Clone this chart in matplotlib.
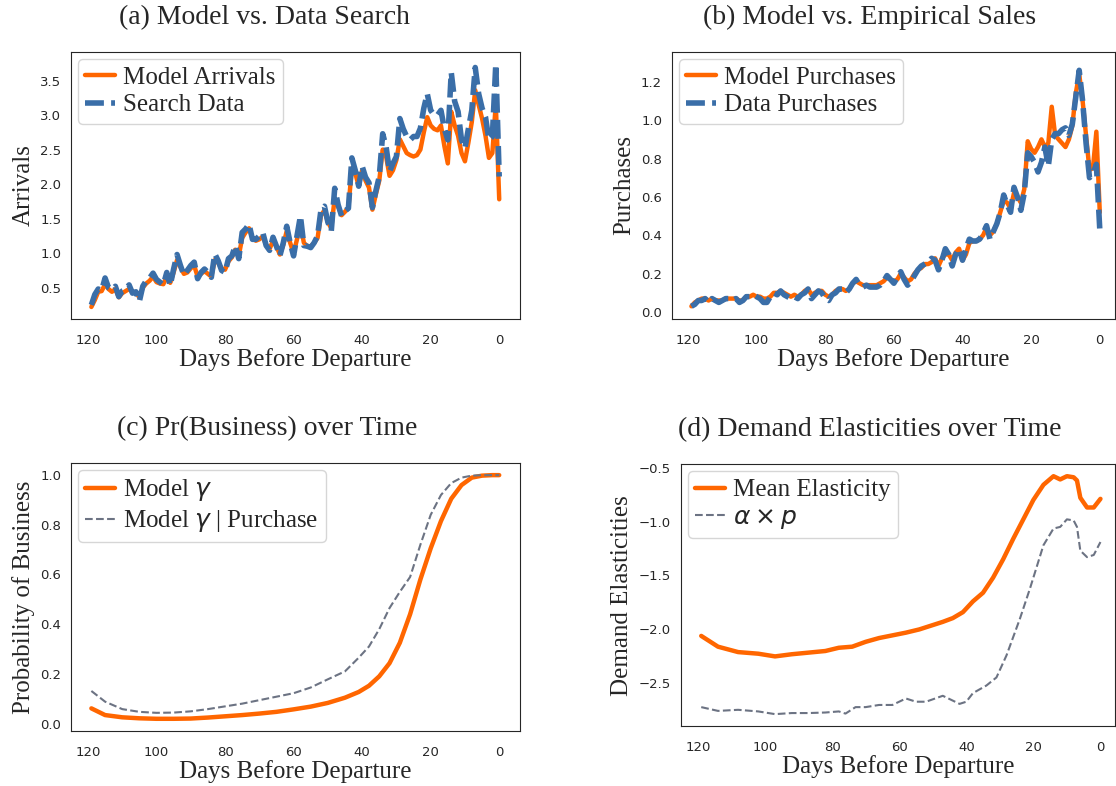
import numpy as np
import matplotlib
matplotlib.use('Agg')
import matplotlib.pyplot as plt
import seaborn as sns

# days before departure, one value per day (119 -> 0)
days = np.arange(119, -1, -1)

# (a) arrivals
search_data = [0.25, 0.40, 0.48, 0.46, 0.64, 0.50, 0.47, 0.52, 0.37, 0.45,
               0.47, 0.54, 0.42, 0.44, 0.30, 0.52, 0.60, 0.64, 0.71, 0.62,
               0.58, 0.54, 0.72, 0.53, 0.77, 0.98, 0.82, 0.68, 0.75, 0.82,
               0.87, 0.63, 0.72, 0.77, 0.72, 0.65, 0.99, 0.89, 0.75, 0.72,
               0.92, 0.96, 1.11, 0.92, 1.30, 1.35, 1.42, 1.20, 1.20, 1.25,
               1.30, 1.11, 1.04, 1.23, 1.10, 0.96, 1.15, 1.39, 1.15, 0.96,
               1.25, 1.54, 1.11, 1.10, 1.08, 1.15, 1.25, 1.63, 1.68, 1.45,
               1.32, 1.94, 1.70, 1.54, 1.61, 1.65, 2.38, 2.20, 1.97, 2.26,
               2.10, 2.02, 1.66, 1.90, 2.11, 2.73, 2.54, 2.18, 2.30, 2.40,
               2.95, 2.80, 2.69, 2.64, 2.69, 2.69, 2.81, 3.10, 3.31, 3.07,
               3.00, 3.00, 3.07, 2.80, 2.64, 3.62, 3.20, 3.05, 2.64, 2.52,
               2.80, 3.07, 3.69, 3.31, 3.10, 2.97, 2.64, 2.69, 3.74, 2.11]
model_arrivals = [0.22, 0.32, 0.44, 0.45, 0.55, 0.48, 0.44, 0.48, 0.36, 0.42,
                  0.45, 0.48, 0.44, 0.43, 0.36, 0.50, 0.56, 0.60, 0.66, 0.58,
                  0.56, 0.55, 0.66, 0.57, 0.72, 0.90, 0.80, 0.70, 0.72, 0.78,
                  0.82, 0.66, 0.70, 0.74, 0.70, 0.66, 0.90, 0.86, 0.78, 0.76,
                  0.88, 0.94, 1.05, 0.96, 1.22, 1.30, 1.36, 1.22, 1.18, 1.20,
                  1.24, 1.12, 1.06, 1.18, 1.10, 0.98, 1.12, 1.32, 1.15, 1.00,
                  1.20, 1.42, 1.15, 1.10, 1.10, 1.15, 1.22, 1.55, 1.62, 1.45,
                  1.36, 1.80, 1.68, 1.55, 1.60, 1.66, 2.23, 2.16, 1.97, 2.20,
                  2.05, 1.95, 1.63, 1.85, 2.05, 2.50, 2.40, 2.12, 2.20, 2.35,
                  2.65, 2.55, 2.45, 2.42, 2.40, 2.42, 2.50, 2.75, 2.97, 2.85,
                  2.80, 2.78, 2.85, 2.55, 2.30, 3.05, 2.85, 2.70, 2.45, 2.33,
                  2.60, 2.90, 3.36, 3.15, 2.95, 2.70, 2.38, 2.45, 3.17, 1.78]

# (b) purchases
data_purchases = [0.03, 0.04, 0.06, 0.06, 0.07, 0.05, 0.07, 0.06, 0.05, 0.06,
                  0.07, 0.07, 0.06, 0.07, 0.05, 0.06, 0.08, 0.08, 0.09, 0.08,
                  0.07, 0.05, 0.05, 0.08, 0.10, 0.09, 0.11, 0.09, 0.08, 0.07,
                  0.08, 0.07, 0.09, 0.10, 0.12, 0.07, 0.09, 0.11, 0.10, 0.07,
                  0.06, 0.09, 0.10, 0.12, 0.12, 0.10, 0.12, 0.15, 0.17, 0.14,
                  0.13, 0.14, 0.13, 0.13, 0.13, 0.14, 0.16, 0.19, 0.17, 0.15,
                  0.18, 0.21, 0.17, 0.14, 0.16, 0.19, 0.22, 0.24, 0.25, 0.26,
                  0.28, 0.27, 0.22, 0.27, 0.33, 0.30, 0.24, 0.30, 0.33, 0.27,
                  0.33, 0.38, 0.37, 0.37, 0.38, 0.41, 0.45, 0.38, 0.42, 0.46,
                  0.52, 0.61, 0.56, 0.52, 0.65, 0.60, 0.53, 0.62, 0.83, 0.81,
                  0.78, 0.73, 0.78, 0.86, 0.76, 0.90, 0.93, 0.93, 0.95, 0.96,
                  0.92, 0.98, 1.12, 1.26, 1.10, 0.88, 0.70, 0.72, 0.77, 0.43]
model_purchases = [0.03, 0.05, 0.06, 0.07, 0.07, 0.06, 0.07, 0.06, 0.06, 0.06,
                   0.07, 0.07, 0.07, 0.07, 0.06, 0.06, 0.08, 0.08, 0.09, 0.08,
                   0.08, 0.07, 0.07, 0.08, 0.10, 0.10, 0.11, 0.10, 0.09, 0.08,
                   0.09, 0.08, 0.09, 0.11, 0.12, 0.09, 0.10, 0.11, 0.11, 0.09,
                   0.08, 0.09, 0.11, 0.12, 0.12, 0.11, 0.12, 0.15, 0.16, 0.15,
                   0.14, 0.14, 0.14, 0.14, 0.14, 0.15, 0.16, 0.18, 0.17, 0.16,
                   0.17, 0.20, 0.18, 0.16, 0.17, 0.20, 0.22, 0.23, 0.25, 0.25,
                   0.26, 0.28, 0.24, 0.28, 0.30, 0.30, 0.27, 0.31, 0.33, 0.27,
                   0.30, 0.36, 0.37, 0.37, 0.38, 0.40, 0.44, 0.40, 0.42, 0.46,
                   0.52, 0.58, 0.57, 0.54, 0.62, 0.60, 0.57, 0.64, 0.89, 0.85,
                   0.83, 0.86, 0.90, 0.86, 0.88, 1.07, 0.92, 0.90, 0.88, 0.86,
                   0.90, 0.97, 1.14, 1.24, 1.10, 0.92, 0.74, 0.75, 0.94, 0.52]

# (c) probability of business
days_c = [119, 115, 110, 105, 100, 95, 90, 85, 80, 75, 70, 65, 60, 55, 50,
          45, 41, 38, 35, 32, 29, 26, 23, 20, 17, 14, 11, 8, 5, 2, 0]
gamma_model = [0.061, 0.034, 0.025, 0.021, 0.019, 0.019, 0.020, 0.024, 0.029,
               0.034, 0.040, 0.047, 0.057, 0.068, 0.083, 0.104, 0.127, 0.152,
               0.190, 0.243, 0.325, 0.440, 0.580, 0.705, 0.815, 0.905, 0.960,
               0.990, 0.998, 1.000, 1.000]
gamma_purchase = [0.131, 0.088, 0.058, 0.047, 0.043, 0.044, 0.049, 0.058, 0.069,
                  0.080, 0.094, 0.108, 0.122, 0.145, 0.178, 0.210, 0.265, 0.310,
                  0.380, 0.465, 0.530, 0.590, 0.720, 0.840, 0.920, 0.968, 0.990,
                  0.998, 1.000, 1.000, 1.000]

# (d) elasticities
days_d = [119, 114, 108, 102, 97, 92, 87, 82, 78, 74, 70, 66, 62, 58, 54, 50,
          47, 44, 41, 38, 35, 32, 29, 26, 23, 20, 17, 14, 12, 10, 8, 7, 6, 4, 2, 0]
mean_elast = [-2.06, -2.16, -2.21, -2.225, -2.25, -2.23, -2.215, -2.20, -2.17,
              -2.16, -2.115, -2.08, -2.055, -2.03, -2.00, -1.96, -1.93, -1.895,
              -1.84, -1.74, -1.66, -1.52, -1.35, -1.16, -0.98, -0.80, -0.66,
              -0.58, -0.61, -0.58, -0.59, -0.62, -0.78, -0.87, -0.87, -0.79]
days_d2 = [119, 114, 108, 102, 97, 92, 87, 82, 78, 76, 73, 70, 66, 62, 58, 55,
           52, 47, 44, 42, 40, 38, 34, 31, 28, 24, 21, 17, 14, 12, 10, 8, 7, 6,
           4, 2, 0]
alpha_p = [-2.72, -2.755, -2.745, -2.76, -2.785, -2.775, -2.775, -2.77, -2.76,
           -2.78, -2.72, -2.72, -2.70, -2.70, -2.64, -2.67, -2.67, -2.615, -2.66,
           -2.69, -2.67, -2.59, -2.52, -2.445, -2.24, -1.90, -1.62, -1.22, -1.065,
           -1.05, -0.98, -0.99, -1.05, -1.27, -1.33, -1.31, -1.19]

sns.set_style('white')
plt.rcParams['font.family'] = ['Liberation Serif', 'DejaVu Serif']
plt.rcParams['mathtext.fontset'] = 'dejavusans'

ORANGE = '#ff6600'
BLUE = '#3a6ea8'
GRAY = '#6c7383'
TICK_FONT = 9.5
LABEL_FONT = 18
TITLE_FONT = 20
BLUE_DASH = (0, (3.4, 1.3))

fig = plt.figure(figsize=(11.16, 7.86), dpi=100)
ax_a = fig.add_axes([0.0636, 0.594, 0.402, 0.340])
ax_b = fig.add_axes([0.602, 0.594, 0.397, 0.340])
ax_c = fig.add_axes([0.0636, 0.070, 0.402, 0.341])
ax_d = fig.add_axes([0.610, 0.0763, 0.389, 0.333])


def style(ax, title, ylabel, title_x):
    # titles sit over the whole panel (caption style), not the axes centre
    ax.set_title(title, fontsize=TITLE_FONT, pad=20, x=title_x)
    ax.set_xlabel('Days Before Departure', fontsize=LABEL_FONT, labelpad=1)
    ax.set_ylabel(ylabel, fontsize=LABEL_FONT)
    ax.set_xticks([120, 100, 80, 60, 40, 20, 0])
    ax.tick_params(axis='x', pad=7)
    for lab in ax.get_xticklabels() + ax.get_yticklabels():
        lab.set_family('DejaVu Sans')
        lab.set_fontsize(TICK_FONT)
    ax.legend(loc='upper left', fontsize=LABEL_FONT, handlelength=1.2,
              handletextpad=0.3, borderaxespad=0.28, labelspacing=0.2,
              borderpad=0.3)


ax_a.plot(days, model_arrivals, color=ORANGE, lw=3.2, label='Model Arrivals')
ax_a.plot(days, search_data, color=BLUE, lw=4, ls=BLUE_DASH, label='Search Data')
ax_a.set_xlim(124.95, -5.95)
ax_a.set_yticks([0.5, 1.0, 1.5, 2.0, 2.5, 3.0, 3.5])
style(ax_a, '(a) Model vs. Data Search', 'Arrivals', 0.432)

ax_b.plot(days, model_purchases, color=ORANGE, lw=3.2, label='Model Purchases')
ax_b.plot(days, data_purchases, color=BLUE, lw=4, ls=BLUE_DASH, label='Data Purchases')
ax_b.set_xlim(124.7, -4.4)
ax_b.set_ylim(-0.037, 1.356)
ax_b.set_yticks([0.0, 0.2, 0.4, 0.6, 0.8, 1.0, 1.2])
style(ax_b, '(b) Model vs. Empirical Sales', 'Purchases', 0.447)

ax_c.plot(days_c, gamma_model, color=ORANGE, lw=3.2, label=r'Model $\gamma$')
ax_c.plot(days_c, gamma_purchase, color=GRAY, lw=1.5, ls='--',
          label=r'Model $\gamma$ | Purchase')
ax_c.set_xlim(124.95, -5.95)
ax_c.set_yticks([0.0, 0.2, 0.4, 0.6, 0.8, 1.0])
style(ax_c, '(c) Pr(Business) over Time', 'Probability of Business', 0.437)

ax_d.plot(days_d, mean_elast, color=ORANGE, lw=3.2, label='Mean Elasticity')
ax_d.plot(days_d2, alpha_p, color=GRAY, lw=1.5, ls='--', label=r'$\alpha \times p$')
ax_d.set_xlim(125.1, -4.3)
ax_d.set_yticks([-0.5, -1.0, -1.5, -2.0, -2.5])
style(ax_d, '(d) Demand Elasticities over Time', 'Demand Elasticities', 0.435)

fig.savefig('out.png', dpi=100)
